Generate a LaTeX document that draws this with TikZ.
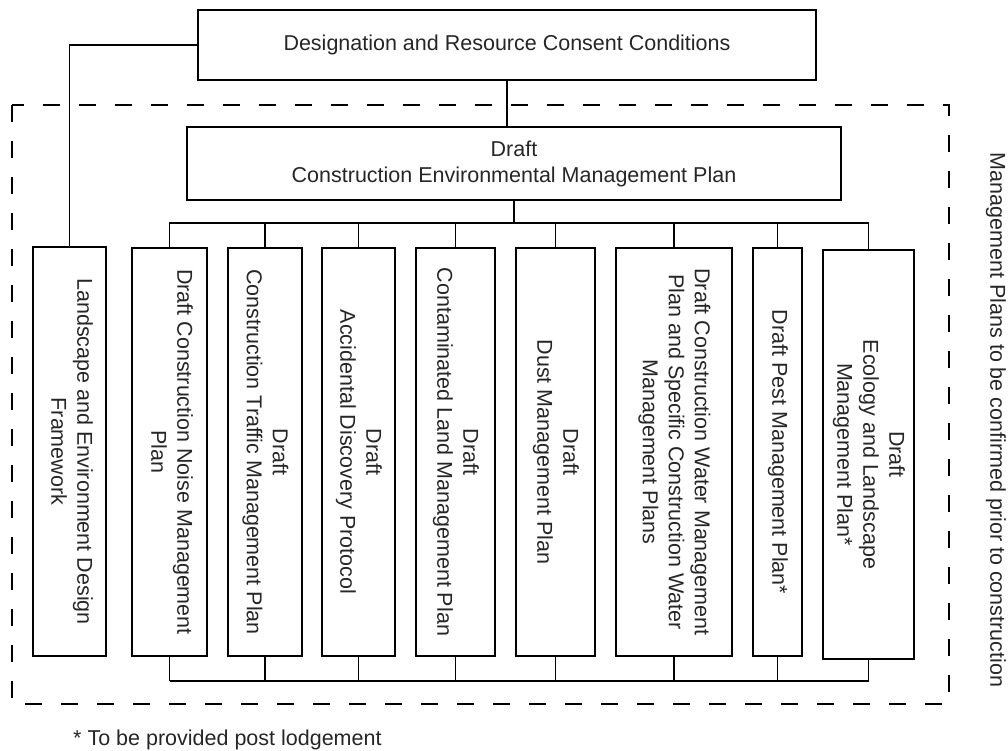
\documentclass[tikz,border=0pt]{standalone}
\usepackage{fontspec}
\setmainfont{Liberation Sans}
\usepackage{graphicx}
\newcommand{\vtext}[1]{\rotatebox{-90}{\begin{tabular}{@{}c@{}}#1\end{tabular}}}
\tikzset{
  box/.style={draw, line width=1.8pt, inner sep=0pt},
  conn/.style={line width=1.3pt},
  frame/.style={line width=1.3pt, dash pattern=on 17pt off 19pt},
  txt/.style={inner sep=0pt},
  every node/.style={font=\fontsize{21.5}{26}\selectfont, text=black!85},
}
\begin{document}
\begin{tikzpicture}[x=1pt,y=-1pt]
\useasboundingbox (0,0) rectangle (1008,751);

% dashed frame
\draw[frame] (12,105) rectangle (949,704);

% top boxes
\node[box, minimum width=618pt, minimum height=70pt] (top) at (507,45) {Designation and Resource Consent Conditions};
\node[box, align=center, minimum width=654pt, minimum height=73pt] (cemp) at (514,163.5) {Draft\\Construction Environmental Management Plan};

% vertical boxes
\node[box, minimum width=73pt, minimum height=409pt] (landscape) at (69.5,451.5) {\vtext{Landscape and Environment Design\\Framework}};
\node[box, minimum width=75pt, minimum height=408pt] (noise) at (169.5,452) {\vtext{Draft Construction Noise Management\\Plan}};
\node[box, minimum width=74pt, minimum height=408pt] (traffic) at (265,452) {\vtext{Draft\\Construction Traffic Management Plan}};
\node[box, minimum width=73pt, minimum height=408pt] (accidental) at (358.5,452) {\vtext{Draft\\Accidental Discovery Protocol}};
\node[box, minimum width=79pt, minimum height=408pt] (contaminated) at (455.5,452) {\vtext{Draft\\Contaminated Land Management Plan}};
\node[box, minimum width=79pt, minimum height=408pt] (dust) at (555.5,452) {\vtext{Draft\\Dust Management Plan}};
\node[box, minimum width=116pt, minimum height=408pt] (water) at (674,452) {\vtext{Draft Construction Water Management\\Plan and Specific Construction Water\\Management Plans}};
\node[box, minimum width=49pt, minimum height=408pt] (pest) at (777.5,452) {\vtext{Draft Pest Management Plan*}};
\node[box, minimum width=91pt, minimum height=409pt] (ecology) at (868.5,454.5) {\vtext{Draft\\Ecology and Landscape\\Management Plan*}};

% side label and footnote
\node[txt, rotate=-90] (side) at (996,420) {Management Plans to be confirmed prior to construction};
\node[txt, anchor=base west] (note) at (73,745) {* To be provided post lodgement};

% connectors
\coordinate (bustop) at (514,223);
\coordinate (busbot) at (170,681);
\draw[conn] (top.west) -- (top.west -| landscape.north) -- (landscape.north);
\draw[conn] (top.south) -- (top.south |- cemp.north);
\draw[conn] (cemp.south) -- (bustop);
\foreach \b in {noise,traffic,accidental,contaminated,dust,water,pest,ecology}{
  \draw[conn] (bustop) -| (\b.north);
  \draw[conn] (\b.south) -- (\b.south |- busbot);
}
\draw[conn] (noise.south |- busbot) -- (ecology.south |- busbot);
\end{tikzpicture}
\end{document}
